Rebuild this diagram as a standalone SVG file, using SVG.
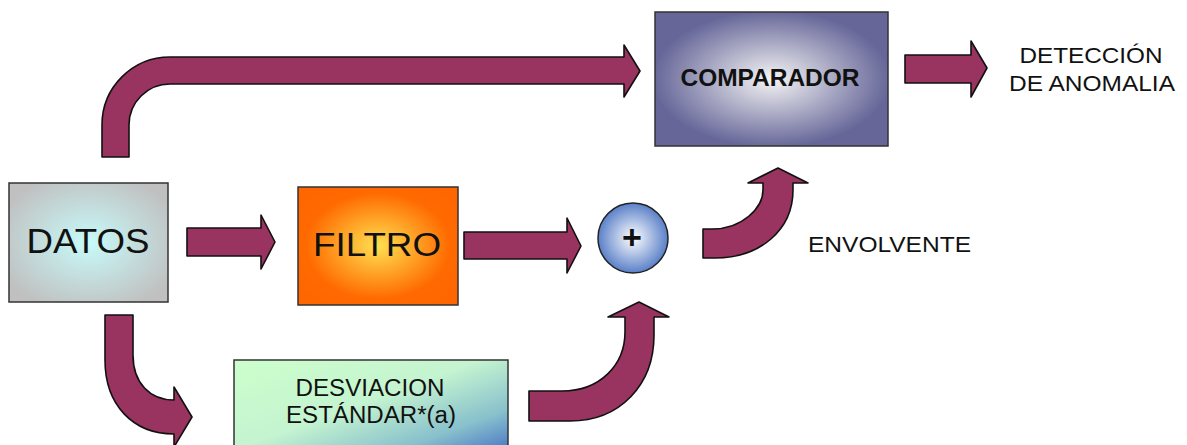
<svg xmlns="http://www.w3.org/2000/svg" width="1187" height="445" viewBox="0 0 1187 445">
<style>
.arrow{fill:#993360;stroke:#111;stroke-width:1.6;stroke-linejoin:round}
.box{stroke:#333;stroke-width:1.5}
.t{font-family:"Liberation Sans",Arial,sans-serif;fill:#111;text-anchor:middle}
.l{font-family:"Liberation Sans",Arial,sans-serif;fill:#111}
</style>
<defs>
<radialGradient id="gDatos" cx="0.5" cy="0.5" r="0.6">
<stop offset="0" stop-color="#c8fafa"/>
<stop offset="1" stop-color="#c0c0c0"/>
</radialGradient>
<radialGradient id="gFiltro" cx="0.5" cy="0.5" r="0.6">
<stop offset="0" stop-color="#ffe050"/>
<stop offset="0.75" stop-color="#ff6a00"/>
<stop offset="1" stop-color="#ff6600"/>
</radialGradient>
<radialGradient id="gComp" cx="0.5" cy="0.5" r="0.6">
<stop offset="0" stop-color="#f4f4f4"/>
<stop offset="0.85" stop-color="#666699"/>
<stop offset="1" stop-color="#666699"/>
</radialGradient>
<radialGradient id="gSum" cx="0.5" cy="0.5" r="0.5">
<stop offset="0" stop-color="#ffffff"/>
<stop offset="1" stop-color="#5a80c8"/>
</radialGradient>
<linearGradient id="gDesv" x1="0" y1="0" x2="1" y2="1">
<stop offset="0" stop-color="#ccffcc"/>
<stop offset="0.45" stop-color="#c4f4d0"/>
<stop offset="0.75" stop-color="#88c0cc"/>
<stop offset="1" stop-color="#3a66c4"/>
</linearGradient>
</defs>

<g id="connectors">
<path class="arrow" d="M102,157 L102,125 A68,68 0 0 1 170,57 L624,57 L624,45 L640,71 L624,97 L624,84 L170,84 A41,41 0 0 0 129,125 L129,157 Z"/>
<path class="arrow" d="M187,228 L261,228 L261,215 L275,242 L261,269 L261,256 L187,256 Z"/>
<path class="arrow" d="M464,232 L567,232 L567,218 L581,246 L567,273 L567,259 L464,259 Z"/>
<path class="arrow" d="M905,55 L971,55 L971,41 L987,68 L971,97 L971,83 L905,83 Z"/>
<path class="arrow" d="M105,315 L133,315 L133,355 C133,383 150,400 174,400 L174,387 L192,417 L174,447 L174,434 C133,434 105,405 105,360 Z"/>
<path class="arrow" d="M529,391 L562,391 C600,391 625,365 625,332 L625,317 L608,317 L639,302 L669,317 L654,317 L654,335 C654,385 620,421 570,421 L529,421 Z"/>
<path class="arrow" d="M703,229 L712,229 C742,229 763,208 763,190 L763,183 L748,183 L778,168 L808,183 L793,183 L793,190 C793,230 760,258 715,258 L703,258 Z"/>
</g>

<g id="datos">
<rect class="box" x="9" y="183" width="159" height="119" fill="url(#gDatos)"/>
<text class="t" x="88" y="253" font-size="35" textLength="123" lengthAdjust="spacingAndGlyphs">DATOS</text>
</g>

<g id="filtro">
<rect class="box" x="298" y="187" width="160" height="118" fill="url(#gFiltro)"/>
<text class="t" x="377" y="256" font-size="33" textLength="128" lengthAdjust="spacingAndGlyphs">FILTRO</text>
</g>

<g id="comparador">
<rect class="box" x="655" y="12" width="233" height="134" fill="url(#gComp)"/>
<text class="t" x="770" y="86" font-size="23" font-weight="bold" textLength="179" lengthAdjust="spacingAndGlyphs">COMPARADOR</text>
</g>

<g id="suma">
<circle cx="633" cy="238" r="35" fill="url(#gSum)" stroke="#222" stroke-width="1.5"/>
<text class="t" x="632" y="249" font-size="34" font-weight="bold">+</text>
</g>

<g id="desviacion">
<rect class="box" x="234" y="360" width="274" height="100" fill="url(#gDesv)"/>
<text class="t" x="370" y="396" font-size="23" textLength="149" lengthAdjust="spacingAndGlyphs">DESVIACION</text>
<text class="t" x="371" y="423" font-size="23" textLength="170" lengthAdjust="spacingAndGlyphs">ESTÁNDAR*(a)</text>
</g>

<g id="deteccion">
<text class="t" x="1091" y="63" font-size="22" textLength="143" lengthAdjust="spacingAndGlyphs">DETECCIÓN</text>
<text class="t" x="1092" y="91" font-size="22" textLength="166" lengthAdjust="spacingAndGlyphs">DE ANOMALIA</text>
</g>

<g id="envolvente">
<text class="l" x="808" y="252" font-size="22" textLength="163" lengthAdjust="spacingAndGlyphs">ENVOLVENTE</text>
</g>
</svg>
